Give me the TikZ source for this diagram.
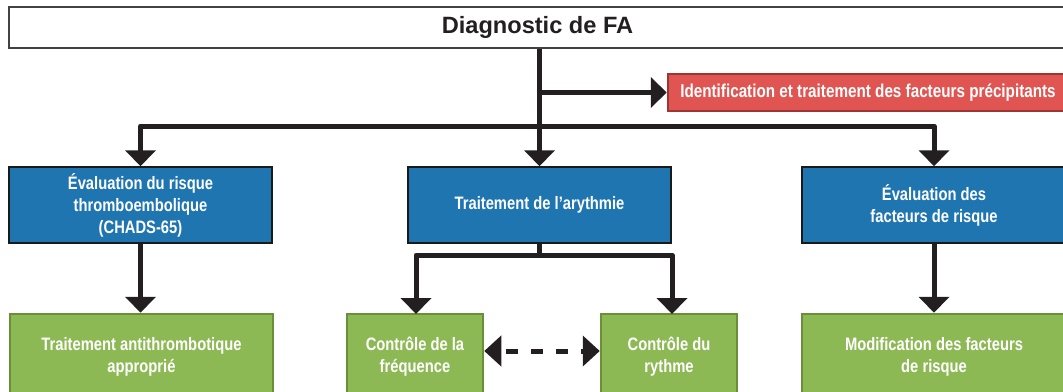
\documentclass[tikz,border=0pt]{standalone}
\usepackage{fontspec}
\setmainfont{Liberation Sans}
\newfontfamily\condfont{Liberation Sans}[FakeStretch=0.82]
\usetikzlibrary{arrows.meta}
\definecolor{ink}{HTML}{231F20}
\definecolor{bluefill}{HTML}{1F75B0}
\definecolor{blueline}{HTML}{1A1A1A}
\definecolor{greenfill}{HTML}{8DB955}
\definecolor{greenline}{HTML}{6B8E3A}
\definecolor{redfill}{HTML}{E05552}
\definecolor{redline}{HTML}{9E3535}
\tikzset{
  box/.style={inner sep=0pt, align=center, text=white,
    font=\condfont\bfseries\fontsize{18}{22}\selectfont},
  bluebox/.style={box, fill=bluefill, draw=blueline, line width=1.5pt,
    minimum width=263pt, minimum height=76pt},
  greenbox/.style={box, fill=greenfill, draw=greenline, line width=2.5pt,
    minimum height=85pt},
  redbox/.style={box, fill=redfill, draw=redline, line width=2.5pt,
    minimum width=400pt, minimum height=37pt,
    font=\condfont\bfseries\fontsize{18.6}{22}\selectfont},
  titlebox/.style={draw=ink!85, line width=1.5pt, fill=white, text=ink,
    minimum width=1057pt, minimum height=41pt, inner sep=0pt,
    font=\bfseries\fontsize{23.6}{28}\selectfont},
  wire/.style={draw=ink, line width=5pt, line join=round},
  conn/.style={wire, -{Triangle[width=30pt,length=16pt]}},
  dconn/.style={wire, {Triangle[width=30pt,length=17pt]}-{Triangle[width=30pt,length=17pt]},
    dash pattern=on 12pt off 13pt, dash phase=-6pt},
}
\begin{document}
\begin{tikzpicture}[x=1pt,y=-1pt]
\useasboundingbox (0,0) rectangle (1063,391);
\node[titlebox] (title) at (537.5,27.5) {Diagnostic de FA};
\node[redbox] (red) at (868,92.5) {Identification et traitement des facteurs précipitants};
\node[bluebox] (bl) at (140.5,205) {Évaluation du risque\\thromboembolique\\(CHADS-65)};
\node[bluebox] (bm) at (539.5,205) {Traitement de l’arythmie};
\node[bluebox, minimum width=264pt] (br) at (934,205) {Évaluation des\\facteurs de risque};
\node[greenbox, minimum width=263pt] (gl) at (141.5,356.5) {Traitement antithrombotique\\approprié};
\node[greenbox, minimum width=136pt] (gml) at (415,356.5) {Contrôle de la\\fréquence};
\node[greenbox, minimum width=136pt] (gmr) at (669,356.5) {Contrôle du\\rythme};
\node[greenbox, minimum width=264pt] (gr) at (934,356.5) {Modification des facteurs\\de risque};
\coordinate (j1) at (539.5,126);
\coordinate (j2) at (539.5,255);
\draw[conn] (bm.north |- title.south) -- (bm.north);
\draw[conn] (bm.north |- red.west) -- (red.west);
\draw[conn] (j1) -| (bl.north);
\draw[conn] (j1) -| (br.north);
\draw[conn] (bl.south) -- (bl.south |- gl.north);
\draw[conn] (br.south) -- (gr.north);
\draw[wire] (bm.south) -- (j2);
\draw[conn] (j2) -| (416,314) coordinate (cl);
\draw[conn] (j2) -| (672,314) coordinate (cr);
\draw[dconn] (gml.east |- 0,351) -- (gmr.west |- 0,351);
\end{tikzpicture}
\end{document}
